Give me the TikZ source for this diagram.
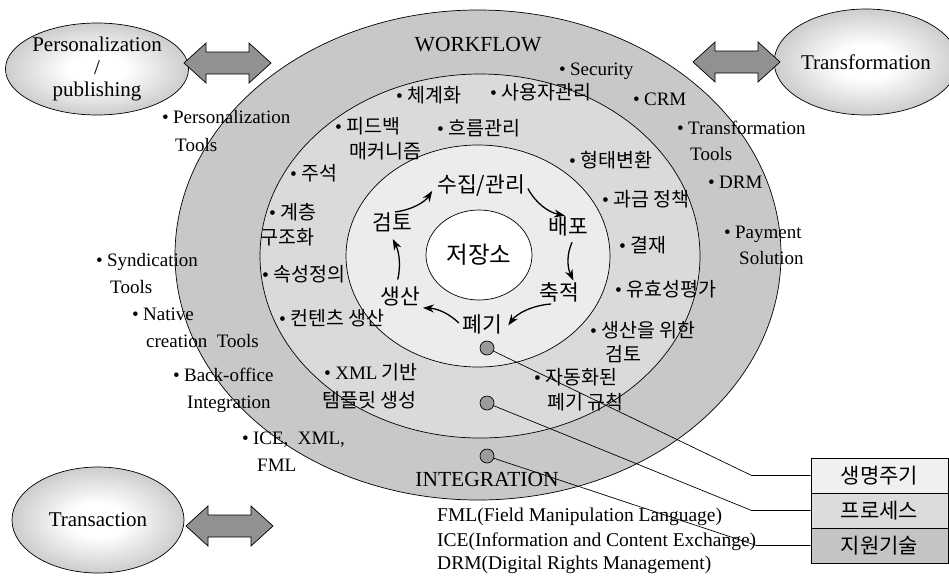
\documentclass[tikz,border=0pt]{standalone}
\usepackage{fontspec}
\setmainfont{Liberation Serif}
\newfontfamily\kr{Noto Sans CJK KR}
\usetikzlibrary{arrows.meta,calc,shapes.geometric}
\definecolor{ringA}{RGB}{200,200,200}
\definecolor{ringB}{RGB}{218,218,218}
\definecolor{ringC}{RGB}{236,236,236}
\definecolor{boxA}{RGB}{240,240,240}
\definecolor{boxB}{RGB}{220,220,220}
\definecolor{boxC}{RGB}{196,196,196}
\definecolor{arrowgray}{RGB}{145,145,145}
\definecolor{dotgray}{RGB}{155,155,155}
\definecolor{edgegray}{RGB}{172,172,172}
\pgfdeclareradialshading{sideshade}{\pgfpoint{0bp}{0bp}}{color(0bp)=(white); color(8bp)=(white); color(36bp)=(edgegray); color(75bp)=(edgegray)}
\newcommand\bul{{\rmfamily\textbullet}\hspace{4.5pt}}
\tikzset{
  ringline/.style={draw=black, line width=0.7pt},
  sideell/.style={ellipse, draw=black, line width=0.7pt, shading=sideshade,
     font=\fontsize{21}{22.5}\selectfont, align=center, inner sep=0pt},
  lt/.style={anchor=west, inner sep=0pt, font=\fontsize{19}{22}\selectfont, text height=13pt, text depth=1pt},
  kt/.style={anchor=west, inner sep=0pt, font=\fontsize{19.5}{22}\selectfont\kr, text height=14pt, text depth=0pt},
  cyc/.style={font=\fontsize{21.5}{23}\selectfont\kr, inner sep=1pt, text height=17pt, text depth=2pt},
  cycarrow/.style={line width=1.3pt, -{Stealth[length=11pt,width=8pt]}},
  bigtitle/.style={font=\fontsize{21.5}{24}\selectfont, inner sep=0pt},
  dotst/.style={circle, draw=black, line width=0.7pt, fill=dotgray, minimum size=14pt, inner sep=0pt},
  boxst/.style={draw=black, line width=0.7pt, minimum width=137pt, minimum height=35pt, inner sep=0pt,
     font=\fontsize{21}{22}\selectfont\kr},
  conn/.style={draw=black, line width=0.7pt},
  bigarrow/.style={draw=black, line width=0.7pt, fill=arrowgray}
}
\newcommand\dblarrow[2]{%
  \draw[bigarrow, shift={(#1,#2)}] (-43.5,0) -- (-21.5,-20) -- (-21.5,-11) -- (21.5,-11) -- (21.5,-20)
    -- (43.5,0) -- (21.5,20) -- (21.5,11) -- (-21.5,11) -- (-21.5,20) -- cycle;}
\begin{document}
\begin{tikzpicture}[x=1pt,y=-1pt]
\useasboundingbox (0,0) rectangle (949,576);
% rings
\path[ringline, fill=ringA] (478,255) ellipse [x radius=303pt, y radius=245pt];
\path[ringline, fill=ringB] (480,256) ellipse [x radius=220pt, y radius=182pt];
\path[ringline, fill=ringC] (478,256) ellipse [x radius=132pt, y radius=111pt];
\node[ellipse, draw=black, line width=0.7pt, fill=white, minimum width=106pt, minimum height=90pt,
      inner sep=0pt, font=\fontsize{23.5}{25}\selectfont\kr] (core) at (479,255) {저장소};

% side ellipses
\node[sideell, minimum width=173pt, minimum height=92pt] (pers) at (97,69) {Personalization\\/\\publishing};
\node[sideell, minimum width=164pt, minimum height=106pt] (trans) at (866,62) {Transformation};
\node[sideell, minimum width=172pt, minimum height=106pt] (tract) at (98,520) {Transaction};
\dblarrow{227.5}{63}
\dblarrow{736.5}{62}
\dblarrow{229.5}{526}

% titles
\node[bigtitle] (wf) at (478,45) {WORKFLOW};
\node[bigtitle] (ig) at (487,479) {INTEGRATION};

% outer labels (latin)
\node[lt] (l1) at (161.8,117) {\bul Personalization};
\node[lt] (l1b) at (175,145) {Tools};
\node[lt] (l2) at (95.8,260) {\bul Syndication};
\node[lt] (l2b) at (110,287) {Tools};
\node[lt] (l3) at (131.8,314) {\bul Native};
\node[lt] (l3b) at (146,341) {creation\ \ Tools};
\node[lt] (l4) at (172.8,375) {\bul Back-office};
\node[lt] (l4b) at (187,402) {Integration};
\node[lt] (l5) at (241.8,438) {\bul ICE,\ \ XML,};
\node[lt] (l5b) at (257,465) {FML};
\node[lt] (r1) at (558.8,69) {\bul Security};
\node[lt] (r2) at (632.8,99) {\bul CRM};
\node[lt] (r3) at (676.8,128) {\bul Transformation};
\node[lt] (r3b) at (690,154) {Tools};
\node[lt] (r4) at (707.8,182) {\bul DRM};
\node[lt] (r5) at (723.8,232) {\bul Payment};
\node[lt] (r5b) at (739,258) {Solution};

% middle ring labels (korean)
\node[kt] (m1) at (395.8,95) {\bul 체계화};
\node[kt] (m2) at (489.8,92) {\bul 사용자관리};
\node[kt] (m3) at (334.8,126) {\bul 피드백};
\node[kt] (m3b) at (349,151) {매커니즘};
\node[kt] (m4) at (436.8,128) {\bul 흐름관리};
\node[kt] (m5) at (289.8,173) {\bul 주석};
\node[kt] (m6) at (568.8,160) {\bul 형태변환};
\node[kt] (m7) at (601.8,199) {\bul 과금 정책};
\node[kt] (m8) at (268.8,212) {\bul 계층};
\node[kt] (m8b) at (260,237) {구조화};
\node[kt] (m9) at (618.8,245) {\bul 결재};
\node[kt] (m10) at (261.8,274) {\bul 속성정의};
\node[kt] (m11) at (614.8,289) {\bul 유효성평가};
\node[kt] (m12) at (278.8,318) {\bul 컨텐츠 생산};
\node[kt] (m13) at (589.8,330) {\bul 생산을 위한};
\node[kt] (m13b) at (605,354) {검토};
\node[kt] (m14) at (323.8,372) {\bul {\rmfamily\fontsize{19}{22}\selectfont XML}\ 기반};
\node[kt] (m14b) at (322,400) {템플릿 생성};
\node[kt] (m15) at (533.8,377) {\bul 자동화된};
\node[kt] (m15b) at (547,402) {폐기 규칙};

% cycle
\node[cyc] (s) at (481,185) {수집/관리};
\node[cyc] (b) at (568,227) {배포};
\node[cyc] (c) at (559,293) {축적};
\node[cyc] (p) at (482,325) {폐기};
\node[cyc] (sa) at (400,297) {생산};
\node[cyc] (g) at (392,223) {검토};
\draw[cycarrow, shorten <=3pt, shorten >=7pt] (g.north) to[bend right=25] (s.west);
\draw[cycarrow, shorten <=4pt, shorten >=3pt] (s.east) to[bend right=25] (b.north);
\draw[cycarrow, shorten <=5pt, shorten >=2pt] (b.-60) to[bend right=25] (c.35);
\draw[cycarrow, shorten <=4pt, shorten >=9pt] (c.-110) to[bend right=25] (p.-20);
\draw[cycarrow, shorten <=3pt, shorten >=2pt] (p.west) to[bend right=20] (sa.south east);
\draw[cycarrow, shorten <=7pt, shorten >=6pt] (sa.110) to[bend right=20] (g.-100);

% abbreviations
\node[lt, font=\fontsize{19.5}{22}\selectfont] (ab1) at (437,515) {FML(Field Manipulation Language)};
\node[lt, font=\fontsize{19.5}{22}\selectfont] (ab2) at (437,540) {ICE(Information and Content Exchange)};
\node[lt, font=\fontsize{19.5}{22}\selectfont] (ab3) at (437,563) {DRM(Digital Rights Management)};

% legend boxes
\node[boxst, fill=boxA] (b1) at (879.5,475.5) {생명주기};
\node[boxst, fill=boxB] (b2) at (879.5,510.5) {프로세스};
\node[boxst, fill=boxC] (b3) at (879.5,545.5) {지원기술};

% dots and leader lines
\node[dotst] (d1) at (487,348) {};
\node[dotst] (d2) at (487,403) {};
\node[dotst] (d3) at (487,456) {};
\draw[conn] (d1) -- ([xshift=-59pt]b1.west) -- (b1.west);
\draw[conn] (d2) -- ([xshift=-59pt]b2.west) -- (b2.west);
\draw[conn] (d3) -- ([xshift=-54pt]b3.west) -- (b3.west);
\end{tikzpicture}
\end{document}
